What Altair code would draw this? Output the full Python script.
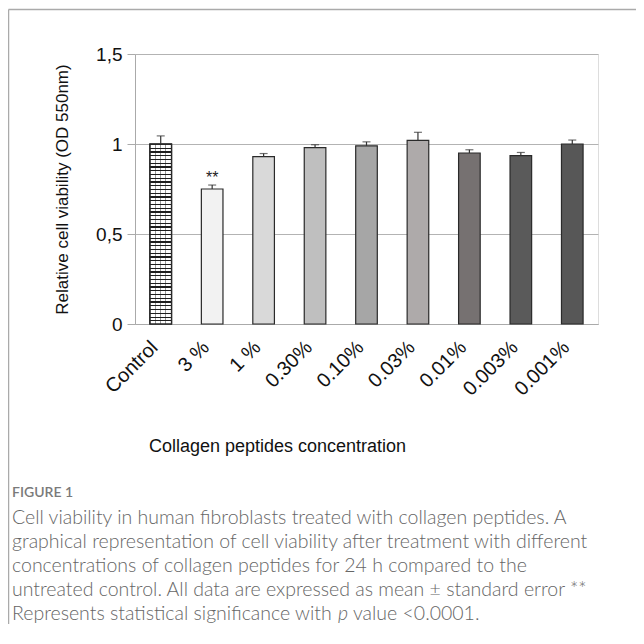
import altair as alt
import pandas as pd

# ---- data ----
categories = ["Control", "3 %", "1 %", "0.30%", "0.10%", "0.03%", "0.01%", "0.003%", "0.001%"]
means = [1.00, 0.75, 0.93, 0.98, 0.99, 1.02, 0.95, 0.935, 1.00]
errors = [0.045, 0.022, 0.017, 0.016, 0.022, 0.045, 0.018, 0.018, 0.022]
fills = ["#3a3a3a", "#f2f2f2", "#d9d9d9", "#bfbfbf", "#a6a6a6", "#aeaaaa", "#767171", "#5a5a5a", "#575757"]
marks = ["", "**", "", "", "", "", "", "", ""]
y_ticks = [0, 0.5, 1, 1.5]

x_title = "Collagen  peptides  concentration"
y_title = "Relative cell viability (OD 550nm)"
fig_label = "FIGURE 1"
caption_lines = [
    "Cell viability in human fibroblasts treated with collagen peptides. A",
    "graphical representation of cell viability after treatment with different",
    "concentrations of collagen peptides for 24 h compared to the",
    "untreated control. All data are expressed as mean ± standard error **",
]
last_line = ["Represents statistical significance with", "p", "value <0.0001."]

df = pd.DataFrame({"cat": categories, "mean": means, "err": errors, "fill": fills, "sig": marks})
df["top"] = df["mean"] + df["err"]

W, H = 463, 270
FONT = "Liberation Sans"
CAP_FONT = "Lato"
CAP_SIZE = 19.5
CAP_COLOR = "#666666"
CAP_X = -123

x_enc = alt.X("cat:N", sort=categories,
              scale=alt.Scale(paddingInner=0, paddingOuter=0),
              axis=alt.Axis(labelAngle=-45, labelFontSize=20, labelColor="#111", labelFont=FONT,
                            ticks=False, domainColor="#aaaaaa", labelPadding=20, labelOffset=-6,
                            labelBaseline="middle", labelAlign="right",
                            title=x_title, titleFont=FONT, titleFontSize=18, titleFontWeight="normal",
                            titleColor="#111", titleX=142, titleY=122, titleAlign="center",
                            titleBaseline="middle"))
y_scale = alt.Scale(domain=[0, 1.5], nice=False)
y_axis = alt.Axis(values=y_ticks, labelExpr="replace(format(datum.value, '~g'), '.', ',')",
                  labelFontSize=19, labelFont=FONT, labelColor="#111", labelPadding=5,
                  tickSize=8, tickColor="#aaaaaa",
                  domainColor="#aaaaaa", gridColor="#b3b3b3", grid=True,
                  title=y_title, titleFont=FONT, titleFontSize=17, titleFontWeight="normal",
                  titleColor="#111", titleAngle=-90, titleX=-73, titleY=135,
                  titleAlign="center", titleBaseline="middle")

base = alt.Chart(df)

bars = base.mark_bar(width=alt.RelativeBandSize(0.42), stroke="#2a2a2a", strokeWidth=1.2).encode(
    x=x_enc,
    y=alt.Y("mean:Q", scale=y_scale, axis=y_axis),
    fill=alt.Fill("fill:N", scale=None, legend=None),
)

# brick-like pattern for the control bar (horizontal courses + joints)
n_rows = 48
stops = []
for i in range(n_rows):
    a = i / n_rows
    b = (i + 0.28) / n_rows
    c = (i + 1) / n_rows
    stops += [alt.GradientStop(offset=a, color="#1e1e1e"), alt.GradientStop(offset=b, color="#1e1e1e"),
              alt.GradientStop(offset=b, color="#ffffff"), alt.GradientStop(offset=c, color="#ffffff")]
h_grad = alt.LinearGradient(gradient="linear", stops=stops, x1=0, x2=0, y1=0, y2=1)
vstops = []
for pos, col in [(0.27, "rgba(30,30,30,0.45)"), (0.5, "rgba(30,30,30,0.45)"), (0.73, "rgba(30,30,30,0.45)")]:
    vstops += [alt.GradientStop(offset=pos - 0.03, color="rgba(0,0,0,0)"),
               alt.GradientStop(offset=pos - 0.03, color=col),
               alt.GradientStop(offset=pos + 0.03, color=col),
               alt.GradientStop(offset=pos + 0.03, color="rgba(0,0,0,0)")]
vstops = [alt.GradientStop(offset=0, color="rgba(0,0,0,0)")] + vstops + [alt.GradientStop(offset=1, color="rgba(0,0,0,0)")]
v_grad = alt.LinearGradient(gradient="linear", stops=vstops, x1=0, x2=1, y1=0, y2=0)

ctrl = base.transform_filter(alt.datum.cat == categories[0])
ctrl_bar = ctrl.mark_bar(width=alt.RelativeBandSize(0.42), fill=h_grad, stroke="#2a2a2a", strokeWidth=1.2).encode(
    x=alt.X("cat:N", sort=categories), y=alt.Y("mean:Q", scale=y_scale))
ctrl_joint = ctrl.mark_bar(width=alt.RelativeBandSize(0.42), fill=v_grad, stroke="#2a2a2a", strokeWidth=1.2).encode(
    x=alt.X("cat:N", sort=categories), y=alt.Y("mean:Q", scale=y_scale))

err_rule = base.mark_rule(color="#333333", strokeWidth=1.2).encode(
    x=alt.X("cat:N", sort=categories), y=alt.Y("mean:Q", scale=y_scale), y2="top:Q")
err_cap = base.mark_tick(color="#333333", size=8, thickness=1.2).encode(
    x=alt.X("cat:N", sort=categories), y=alt.Y("top:Q", scale=y_scale))
sig_text = base.mark_text(font=FONT, fontSize=16, color="#222", dy=-7).encode(
    x=alt.X("cat:N", sort=categories), y=alt.Y("top:Q", scale=y_scale), text="sig:N")

one = pd.DataFrame({"k": [0]})
frame_v = alt.Chart(one).mark_rule(color="#aaaaaa", strokeWidth=1.5).encode(
    x=alt.value(-126.5), y=alt.value(-44.5), y2=alt.value(700))
frame_h = alt.Chart(one).mark_rule(color="#aaaaaa", strokeWidth=1.5).encode(
    x=alt.value(-126.5), x2=alt.value(700), y=alt.value(-44.5))

fig_txt = alt.Chart(one).mark_text(font=CAP_FONT, fontSize=14, fontWeight=600, color="#7a7a7a",
                                   align="left", baseline="middle").encode(
    x=alt.value(CAP_X), y=alt.value(439), text=alt.value(fig_label))
cap_txt = alt.Chart(one).mark_text(font=CAP_FONT, fontSize=CAP_SIZE, fontWeight=300, color=CAP_COLOR,
                                   align="left", baseline="middle", lineHeight=24).encode(
    x=alt.value(CAP_X), y=alt.value(464), text=alt.value(caption_lines))
last_y = 464 + 24 * 4
cap_a = alt.Chart(one).mark_text(font=CAP_FONT, fontSize=CAP_SIZE, fontWeight=300, color=CAP_COLOR,
                                 align="left", baseline="middle").encode(
    x=alt.value(CAP_X), y=alt.value(last_y), text=alt.value(last_line[0]))
cap_b = alt.Chart(one).mark_text(font=CAP_FONT, fontSize=CAP_SIZE, fontWeight=300, color=CAP_COLOR,
                                 align="left", baseline="middle", fontStyle="italic").encode(
    x=alt.value(203), y=alt.value(last_y), text=alt.value(last_line[1]))
cap_c = alt.Chart(one).mark_text(font=CAP_FONT, fontSize=CAP_SIZE, fontWeight=300, color=CAP_COLOR,
                                 align="left", baseline="middle").encode(
    x=alt.value(218), y=alt.value(last_y), text=alt.value(last_line[2]))

chart = alt.layer(bars, ctrl_bar, ctrl_joint, err_rule, err_cap, sig_text,
                  frame_v, frame_h, fig_txt, cap_txt, cap_a, cap_b, cap_c).properties(
    width=W, height=H,
    autosize=alt.AutoSizeParams(type="none"),
    padding={"left": 127, "top": 46, "right": 38, "bottom": 300},
).configure_view(stroke=None).configure(background="white")

chart.save("out.html", embed_options={"renderer": "svg", "actions": False})
